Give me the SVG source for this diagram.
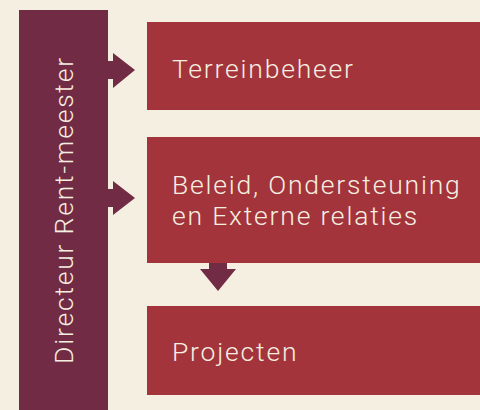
<svg xmlns="http://www.w3.org/2000/svg" width="480" height="410" viewBox="0 0 480 410">
  <style>
    .box { fill: #A3343B; }
    .bar { fill: #722B44; }
    .arrow { fill: #722B44; }
    .lbl { font-family: Roboto, "Liberation Sans", sans-serif; font-weight: 300; font-size: 26.5px; letter-spacing: 1.8px; fill: #F5EFE1; }
  </style>
  <rect x="0" y="0" width="480" height="410" fill="#F5EFE1"/>
  <g id="directeur">
    <rect class="bar" x="19" y="10" width="89" height="400"/>
    <text class="lbl" transform="translate(73,210) rotate(-90)" text-anchor="middle">Directeur Rent-meester</text>
  </g>
  <g id="terreinbeheer">
    <rect class="box" x="147" y="22" width="333" height="88"/>
    <text class="lbl" x="172" y="78">Terreinbeheer</text>
  </g>
  <g id="beleid">
    <rect class="box" x="147" y="137" width="333" height="126"/>
    <text class="lbl" x="172" y="194">Beleid, Ondersteuning</text>
    <text class="lbl" x="172" y="225">en Externe relaties</text>
  </g>
  <g id="projecten">
    <rect class="box" x="147" y="306" width="333" height="89"/>
    <text class="lbl" x="172" y="361">Projecten</text>
  </g>
  <g id="connectors">
    <polygon class="arrow" points="108,61 113,61 113,53 135,70 113,88 113,79 108,79"/>
    <polygon class="arrow" points="108,189 113,189 113,181 135,198 113,215 113,207 108,207"/>
    <polygon class="arrow" points="209,263 227,263 227,269 236,269 218,291 200,269 209,269"/>
  </g>
</svg>
